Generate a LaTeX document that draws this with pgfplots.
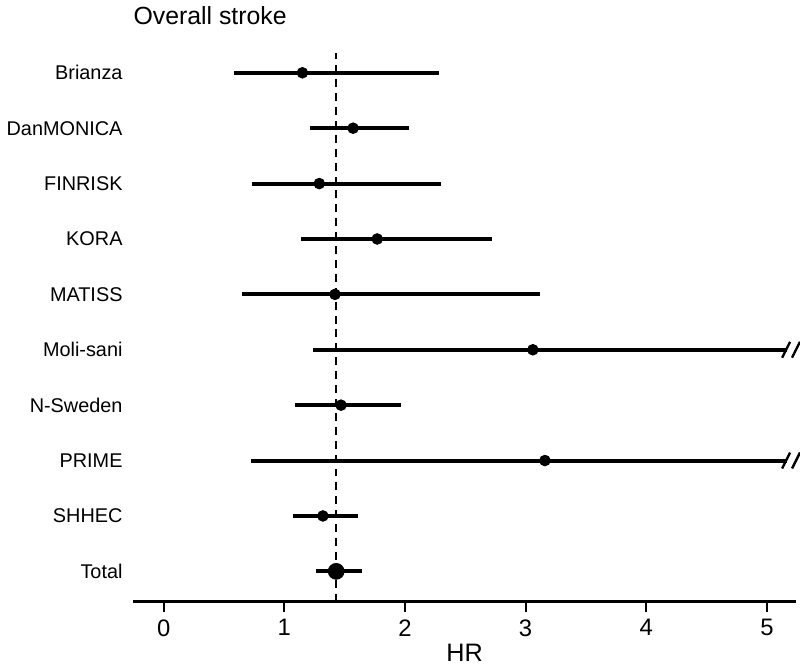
\documentclass[border=0pt]{standalone}
\usepackage{pgfplots}
\usepackage{pgfplotstable}
\pgfplotsset{compat=1.18}
\usepackage{fontspec}
\setmainfont{Liberation Sans}

% two slanted strokes marking a truncated interval
\pgfdeclareplotmark{brk}{%
  \pgfsetlinewidth{1.2pt}%
  \pgfpathmoveto{\pgfqpoint{-4.5pt}{-4pt}}\pgfpathlineto{\pgfqpoint{-0.5pt}{4pt}}%
  \pgfpathmoveto{\pgfqpoint{0.5pt}{-4pt}}\pgfpathlineto{\pgfqpoint{4.5pt}{4pt}}%
  \pgfusepathqstroke}

\pgfplotstableread{
row hr   lo   hi
10  1.15 0.58 2.28
9   1.57 1.21 2.03
8   1.29 0.73 2.30
7   1.77 1.14 2.72
6   1.42 0.65 3.12
5   3.06 1.24 5.17
4   1.47 1.09 1.97
3   3.16 0.72 5.17
2   1.32 1.07 1.61
}\studies

\pgfplotstableread{
row hr   lo   hi
1   1.43 1.26 1.64
}\total

\begin{document}
\begin{tikzpicture}
\begin{axis}[
  scale only axis,
  width=333.5pt, height=276pt,
  xmin=-0.25, xmax=5.24,
  ymin=0.454, ymax=10.35,
  axis x line*=bottom,
  axis y line*=left,
  y axis line style={draw=none},
  x axis line style={line width=1.5pt, -},
  xtick={0,1,2,3,4,5},
  xtick style={line width=1pt, black},
  ytick style={draw=none},
  tick align=outside,
  major tick length=5pt,
  xticklabel style={font=\fontsize{12}{14}\selectfont, yshift=-0.5pt},
  /pgf/number format/assume math mode=true,
  ytick={1,...,10},
  yticklabels={Total,SHHEC,PRIME,N-Sweden,Moli-sani,MATISS,KORA,FINRISK,DanMONICA,Brianza},
  yticklabel style={font=\fontsize{10}{12}\selectfont, xshift=3pt},
  xlabel={HR},
  xlabel style={font=\fontsize{12.7}{14}\selectfont, yshift=3pt},
  title={Overall stroke},
  title style={at={(rel axis cs:0,1)}, anchor=base west, yshift=8.5pt, xshift=-3.5pt,
    font=\fontsize{12.5}{14}\selectfont},
  clip=false,
]
\addplot[black, line width=1pt, dash pattern=on 4pt off 3pt]
  coordinates {(1.43,0.454) (1.43,10.35)};

\addplot[only marks, mark=*, mark size=2.7pt, black,
  error bars/.cd, x dir=both, x explicit, error mark=none,
  error bar style={line width=2pt, black}]
  table[x=hr, y=row,
    x error plus expr=\thisrow{hi}-\thisrow{hr},
    x error minus expr=\thisrow{hr}-\thisrow{lo}] {\studies};

\addplot[only marks, mark=*, mark size=4pt, black,
  error bars/.cd, x dir=both, x explicit, error mark=none,
  error bar style={line width=2pt, black}]
  table[x=hr, y=row,
    x error plus expr=\thisrow{hi}-\thisrow{hr},
    x error minus expr=\thisrow{hr}-\thisrow{lo}] {\total};

\addplot[only marks, mark=brk, black] coordinates {(5.2,5) (5.2,3)};
\end{axis}
\end{tikzpicture}
\end{document}
